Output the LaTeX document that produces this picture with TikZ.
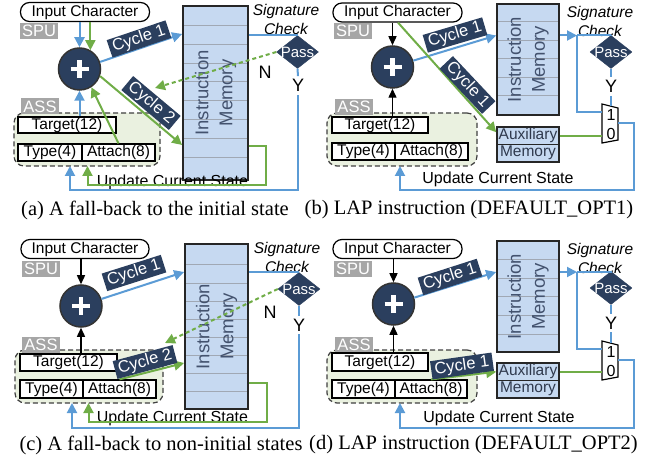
\documentclass[tikz,border=0pt]{standalone}
\usepackage{fontspec}
\setmainfont{Liberation Sans}
\newfontfamily\capfont{Liberation Serif}
\usetikzlibrary{arrows.meta,shapes.geometric}
\definecolor{cnavy}{HTML}{2B3F5E}
\definecolor{cblue}{HTML}{5B9BD5}
\definecolor{cgreen}{HTML}{70AD47}
\definecolor{cimfill}{HTML}{C6D9F1}
\definecolor{cassfill}{HTML}{EAF1E0}
\definecolor{cgray}{HTML}{A6A6A6}
\definecolor{cimtext}{HTML}{43526E}
\definecolor{cimline}{HTML}{A0A8B4}
\newcommand\myfs[1]{\fontsize{#1}{#1}\selectfont}
\newcommand\drawplus[1]{\draw[white,line width=4.5pt] ([xshift=-9pt]#1.center) -- ([xshift=9pt]#1.center) ([yshift=-9pt]#1.center) -- ([yshift=9pt]#1.center);}
\begin{document}
\begin{tikzpicture}[x=1pt,y=-1pt,
 ic/.style={draw=black, line width=1.2pt, fill=white, rounded corners=9pt, minimum width=129pt, minimum height=19pt, inner sep=0pt, font=\myfs{15.5}},
 glbl/.style={fill=cgray, text=white, inner sep=0pt, minimum width=38pt, minimum height=16pt, font=\myfs{16.5}},
 plusc/.style={circle, fill=cnavy, draw=black!80, line width=1.5pt, minimum size=42pt, inner sep=0pt},
 imem/.style={draw=black!85, line width=1.8pt, fill=cimfill, inner sep=0pt},
 imline/.style={draw=cimline, line width=1pt},
 imtext/.style={text=cimtext, align=center, font={\fontsize{18.5}{24}\selectfont}, rotate=90},
 auxm/.style={draw=black!85, line width=1.5pt, fill=cimfill, inner sep=0pt, minimum width=62pt, minimum height=17.5pt, text=cimtext!70!black, font=\myfs{15.5}},
 sig/.style={align=center, font={\itshape\fontsize{15.5}{19}\selectfont}, inner sep=0pt},
 passd/.style={diamond, fill=cnavy, draw=cnavy, minimum width=42pt, minimum height=33pt, inner sep=0pt},
 passt/.style={text=white, font=\myfs{15}, inner sep=0pt},
 ny/.style={font=\myfs{18}, inner sep=3pt},
 assbox/.style={draw=black!75, dash pattern=on 5pt off 3pt, line width=1.2pt, fill=cassfill, rounded corners=10pt, inner sep=0pt},
 field/.style={draw=black, line width=1.2pt, fill=white, inner sep=0pt, font=\myfs{15.5}},
 cyc/.style={fill=cnavy, text=white, inner xsep=3.5pt, inner ysep=1.5pt, font=\myfs{16.5}},
 bl/.style={draw=cblue, line width=2pt},
 gr/.style={draw=cgreen, line width=2pt},
 arw/.style={-{Triangle[length=10pt,width=10pt]}},
 blk/.style={draw=black, line width=1.4pt, -{Triangle[length=9pt,width=8pt]}},
 muxs/.style={draw=black, line width=1.2pt, fill=white},
 muxt/.style={font=\myfs{16}, inner sep=0pt},
 ucs/.style={font=\myfs{16}, inner sep=0pt},
 capt/.style={font={\capfont\myfs{20.5}}, inner sep=0pt}]
\useasboundingbox (0,0) rectangle (645,462);

% ================= (a)
\node[assbox, minimum width=146pt, minimum height=53pt] (assa) at (87,139.5) {};
\node[glbl] (assla) at (40,106.5) {ASS};
\node[field, minimum width=98pt, minimum height=16pt] (tga) at (67,125) {Target(12)};
\node[field, minimum width=64pt, minimum height=17pt] (tya) at (50,152.5) {Type(4)};
\node[field, minimum width=73pt, minimum height=17pt] (ata) at (118.5,152.5) {Attach(8)};
\node[ic] (ica) at (85,12) {Input Character};
\node[glbl] (spua) at (39,31) {SPU};
\node[plusc] (ca) at (79.5,69) {};
\drawplus{ca}
\node[imem, minimum width=65pt, minimum height=174pt] (ima) at (215.5,93) {};
\foreach \y in {25.5,44.3,63.1,81.9,100.7,119.5,138.3,157.1} \draw[imline] (184,\y) -- (247,\y);
\node[imtext] (imta) at (ima) {Instruction\\Memory};
\node[sig] (siga) at (286,19.5) {Signature\\Check};
\node[passd] (pa) at (297.5,52) {};
\node[passt] (pta) at (pa) {Pass};
\node[ny] (na) at (265,72) {N};
\node[ny] (ya) at (298,85.5) {Y};
\node[ucs] (ua) at (172.5,182) {Update Current State};
\draw[bl,arw] (ica.south -| ca) -- (ca.north);
\draw[gr,arw] (ica.south -| ca.60) -- (ca.60);
\draw[bl,arw] (tga.north -| ca) -- (ca.south);
\draw[gr,arw] (ata.north) -- (ca.-57);
\draw[bl,arw] (ca.19) -- ([yshift=59pt]ima.west);
\draw[gr,arw] (ca.-19) -- ([yshift=-52pt]ima.west);
\draw[bl] (ima.east |- pa.north) -- (pa.north);
\draw[bl] (pa.south) -- (ya.north);
\draw[bl,arw] (ya.south) |- (70,190) -- (70,166);
\draw[gr,arw] ([yshift=-53pt]ima.east) -| (265.5,185) -| (87.5,166);
\draw[gr,arw,dash pattern=on 4pt off 3pt] (pa.west) -- (155,88);
\node[cyc, rotate=18.6] (c1a) at (139,39) {Cycle 1};
\node[cyc, rotate=-40] (c2a) at (151,103) {Cycle 2};

% ================= (b)
\node[assbox, minimum width=150pt, minimum height=53pt] (assb) at (402,139.5) {};
\node[glbl] (asslb) at (354,107) {ASS};
\node[field, minimum width=96pt, minimum height=16pt] (tgb) at (380,125) {Target(12)};
\node[field, minimum width=63pt, minimum height=17pt] (tyb) at (363.5,151.5) {Type(4)};
\node[field, minimum width=73pt, minimum height=17pt] (atb) at (431.5,151.5) {Attach(8)};
\node[ic] (icb) at (397.5,12.5) {Input Character};
\node[glbl] (spub) at (353,31) {SPU};
\node[plusc] (cb) at (392.5,67) {};
\drawplus{cb}
\node[imem, minimum width=62pt, minimum height=111pt] (imb) at (528,59.5) {};
\foreach \y in {22,40.5,59,77.5,96} \draw[imline] (498,\y) -- (558,\y);
\node[imtext] (imtb) at (imb) {Instruction\\Memory};
\node[auxm] (axb1) at (528,135.75) {Auxiliary};
\node[auxm] (axb2) at (528,153.25) {Memory};
\node[sig] (sigb) at (600,21.5) {Signature\\Check};
\node[passd] (pb) at (611,52) {};
\node[passt] (ptb) at (pb) {Pass};
\node[ny] (yb) at (611,86.5) {Y};
\draw[muxs] (602,104) -- (618,108) -- (618,140) -- (602,143) -- cycle;
\node[muxt] (m1b) at (611,115) {1};
\node[muxt] (m0b) at (611,134) {0};
\node[ucs] (ub) at (498,179) {Update Current State};
\coordinate (jb) at (577,35.5);
\draw[blk] (icb.south -| cb) -- (cb.north);
\draw[blk] (tgb.north -| cb) -- (cb.south);
\draw[bl,arw] (cb.17) -- ([yshift=24pt]imb.west);
\draw[gr,arw] ([xshift=0.5pt]icb.south) -- ([yshift=3.5pt]axb1.west);
\draw[bl,arw] (imb.east |- jb) -- (jb);
\draw[bl] (jb) -- (pb.north |- jb) -- (pb.north);
\draw[bl] (jb) |- (602,112);
\draw[bl] (pb.south) -- (yb.north);
\draw[bl] (yb.south) -- (611,106);
\draw[gr] (axb1.east) -- (602,135.75);
\draw[bl,arw] (618,123.5) -| (633.5,190.5) -| (400,166);
\node[cyc, rotate=16.5] (c1b) at (455,35) {Cycle 1};
\node[cyc, rotate=-46.7] (c1gb) at (467.5,85) {Cycle 1};

% ================= (c)
\node[assbox, minimum width=148pt, minimum height=53pt] (assc) at (89,376.5) {};
\node[glbl] (asslc) at (41,345) {ASS};
\node[field, minimum width=97pt, minimum height=17pt] (tgc) at (68.5,362.5) {Target(12)};
\node[field, minimum width=63pt, minimum height=18pt] (tyc) at (51.5,389) {Type(4)};
\node[field, minimum width=73pt, minimum height=18pt] (atc) at (119.5,389) {Attach(8)};
\node[ic, minimum width=128pt] (icc) at (85,249) {Input Character};
\node[glbl] (spuc) at (41,269) {SPU};
\node[plusc] (cc) at (81,306) {};
\drawplus{cc}
\node[imem, minimum width=63pt, minimum height=165pt] (imc) at (216.5,326.5) {};
\foreach \y in {265,283.1,301.2,319.3,337.4,355.5,373.6,391.7} \draw[imline] (186,\y) -- (247,\y);
\node[imtext] (imtc) at (imc) {Instruction\\Memory};
\node[sig] (sigc) at (287,257.5) {Signature\\Check};
\node[passd] (pc) at (299,289) {};
\node[passt] (ptc) at (pc) {Pass};
\node[ny] (nc) at (270,312) {N};
\node[ny] (yc) at (299,325) {Y};
\node[ucs] (uc) at (172.5,418) {Update Current State};
\draw[blk] (icc.south -| cc) -- (cc.north);
\draw[blk] (tgc.north -| cc) -- (cc.south);
\draw[bl,arw] (cc.19) -- ([yshift=54.5pt]imc.west);
\draw[bl] (imc.east |- pc.north) -- (pc.north);
\draw[bl] (pc.south) -- (yc.north);
\draw[bl,arw] (yc.south) |- (72,428) -- (72,403);
\draw[gr,arw] ([yshift=-56.5pt]imc.east) -| (267,422) -| (88.5,403);
\draw[gr,arw,dash pattern=on 4pt off 3pt] (pc.west) -- (165,343);
\draw[gr,arw] (atc.north) -- ([yshift=-36.5pt]imc.west);
\node[cyc, rotate=17.6] (c1c) at (134,273) {Cycle 1};
\node[cyc, rotate=15] (c2c) at (145,362) {Cycle 2};

% ================= (d)
\node[assbox, minimum width=150pt, minimum height=53pt] (assd) at (402,376.5) {};
\node[glbl] (assld) at (354,345) {ASS};
\node[field, minimum width=96pt, minimum height=18pt] (tgd) at (380,362) {Target(12)};
\node[field, minimum width=63pt, minimum height=18pt] (tyd) at (363.5,389) {Type(4)};
\node[field, minimum width=72pt, minimum height=18pt] (atd) at (431,389) {Attach(8)};
\node[ic] (icd) at (397.5,249) {Input Character};
\node[glbl] (spud) at (353,269) {SPU};
\node[plusc] (cd) at (393.5,304) {};
\drawplus{cd}
\node[imem, minimum width=62pt, minimum height=111pt] (imd) at (528,296.5) {};
\foreach \y in {260,278.5,297,315.5,334} \draw[imline] (498,\y) -- (558,\y);
\node[imtext] (imtd) at (imd) {Instruction\\Memory};
\node[auxm] (axd1) at (528,371.75) {Auxiliary};
\node[auxm] (axd2) at (528,389.25) {Memory};
\node[sig] (sigd) at (600,258) {Signature\\Check};
\node[passd] (pd) at (611,288) {};
\node[passt] (ptd) at (pd) {Pass};
\node[ny] (yd) at (611,323) {Y};
\draw[muxs] (602,341) -- (618,345) -- (618,377) -- (602,380) -- cycle;
\node[muxt] (m1d) at (611,352) {1};
\node[muxt] (m0d) at (611,371) {0};
\node[ucs] (ud) at (499,418) {Update Current State};
\coordinate (jd) at (577,272);
\draw[blk] (icd.south -| cd) -- (cd.north);
\draw[blk] (tgd.north -| cd) -- (cd.south);
\draw[bl,arw] (cd.17) -- ([yshift=24.5pt]imd.west);
\draw[bl,arw] (imd.east |- jd) -- (jd);
\draw[bl] (jd) -- (pd.north |- jd) -- (pd.north);
\draw[bl] (jd) |- (602,348.5);
\draw[bl] (pd.south) -- (yd.north);
\draw[bl] (yd.south) -- (611,343);
\draw[gr] (axd1.east) -- (602,371.75);
\draw[bl,arw] (618,360) -| (633.5,428) -| (400,403);
\draw[gr,arw] (atd.north) -- (axd1.west);
\node[cyc, rotate=17.8] (c1d) at (450,277) {Cycle 1};
\node[cyc, rotate=8] (c1gd) at (462,366) {Cycle 1};

% ================= captions
\node[capt] (capa) at (155,210) {(a) A fall-back to the initial state};
\node[capt] (capb) at (469,210) {(b) LAP instruction (DEFAULT\_OPT1)};
\node[capt] (capc) at (161,445) {(c) A fall-back to non-initial states};
\node[capt] (capd) at (473.5,445) {(d) LAP instruction (DEFAULT\_OPT2)};
\end{tikzpicture}
\end{document}
